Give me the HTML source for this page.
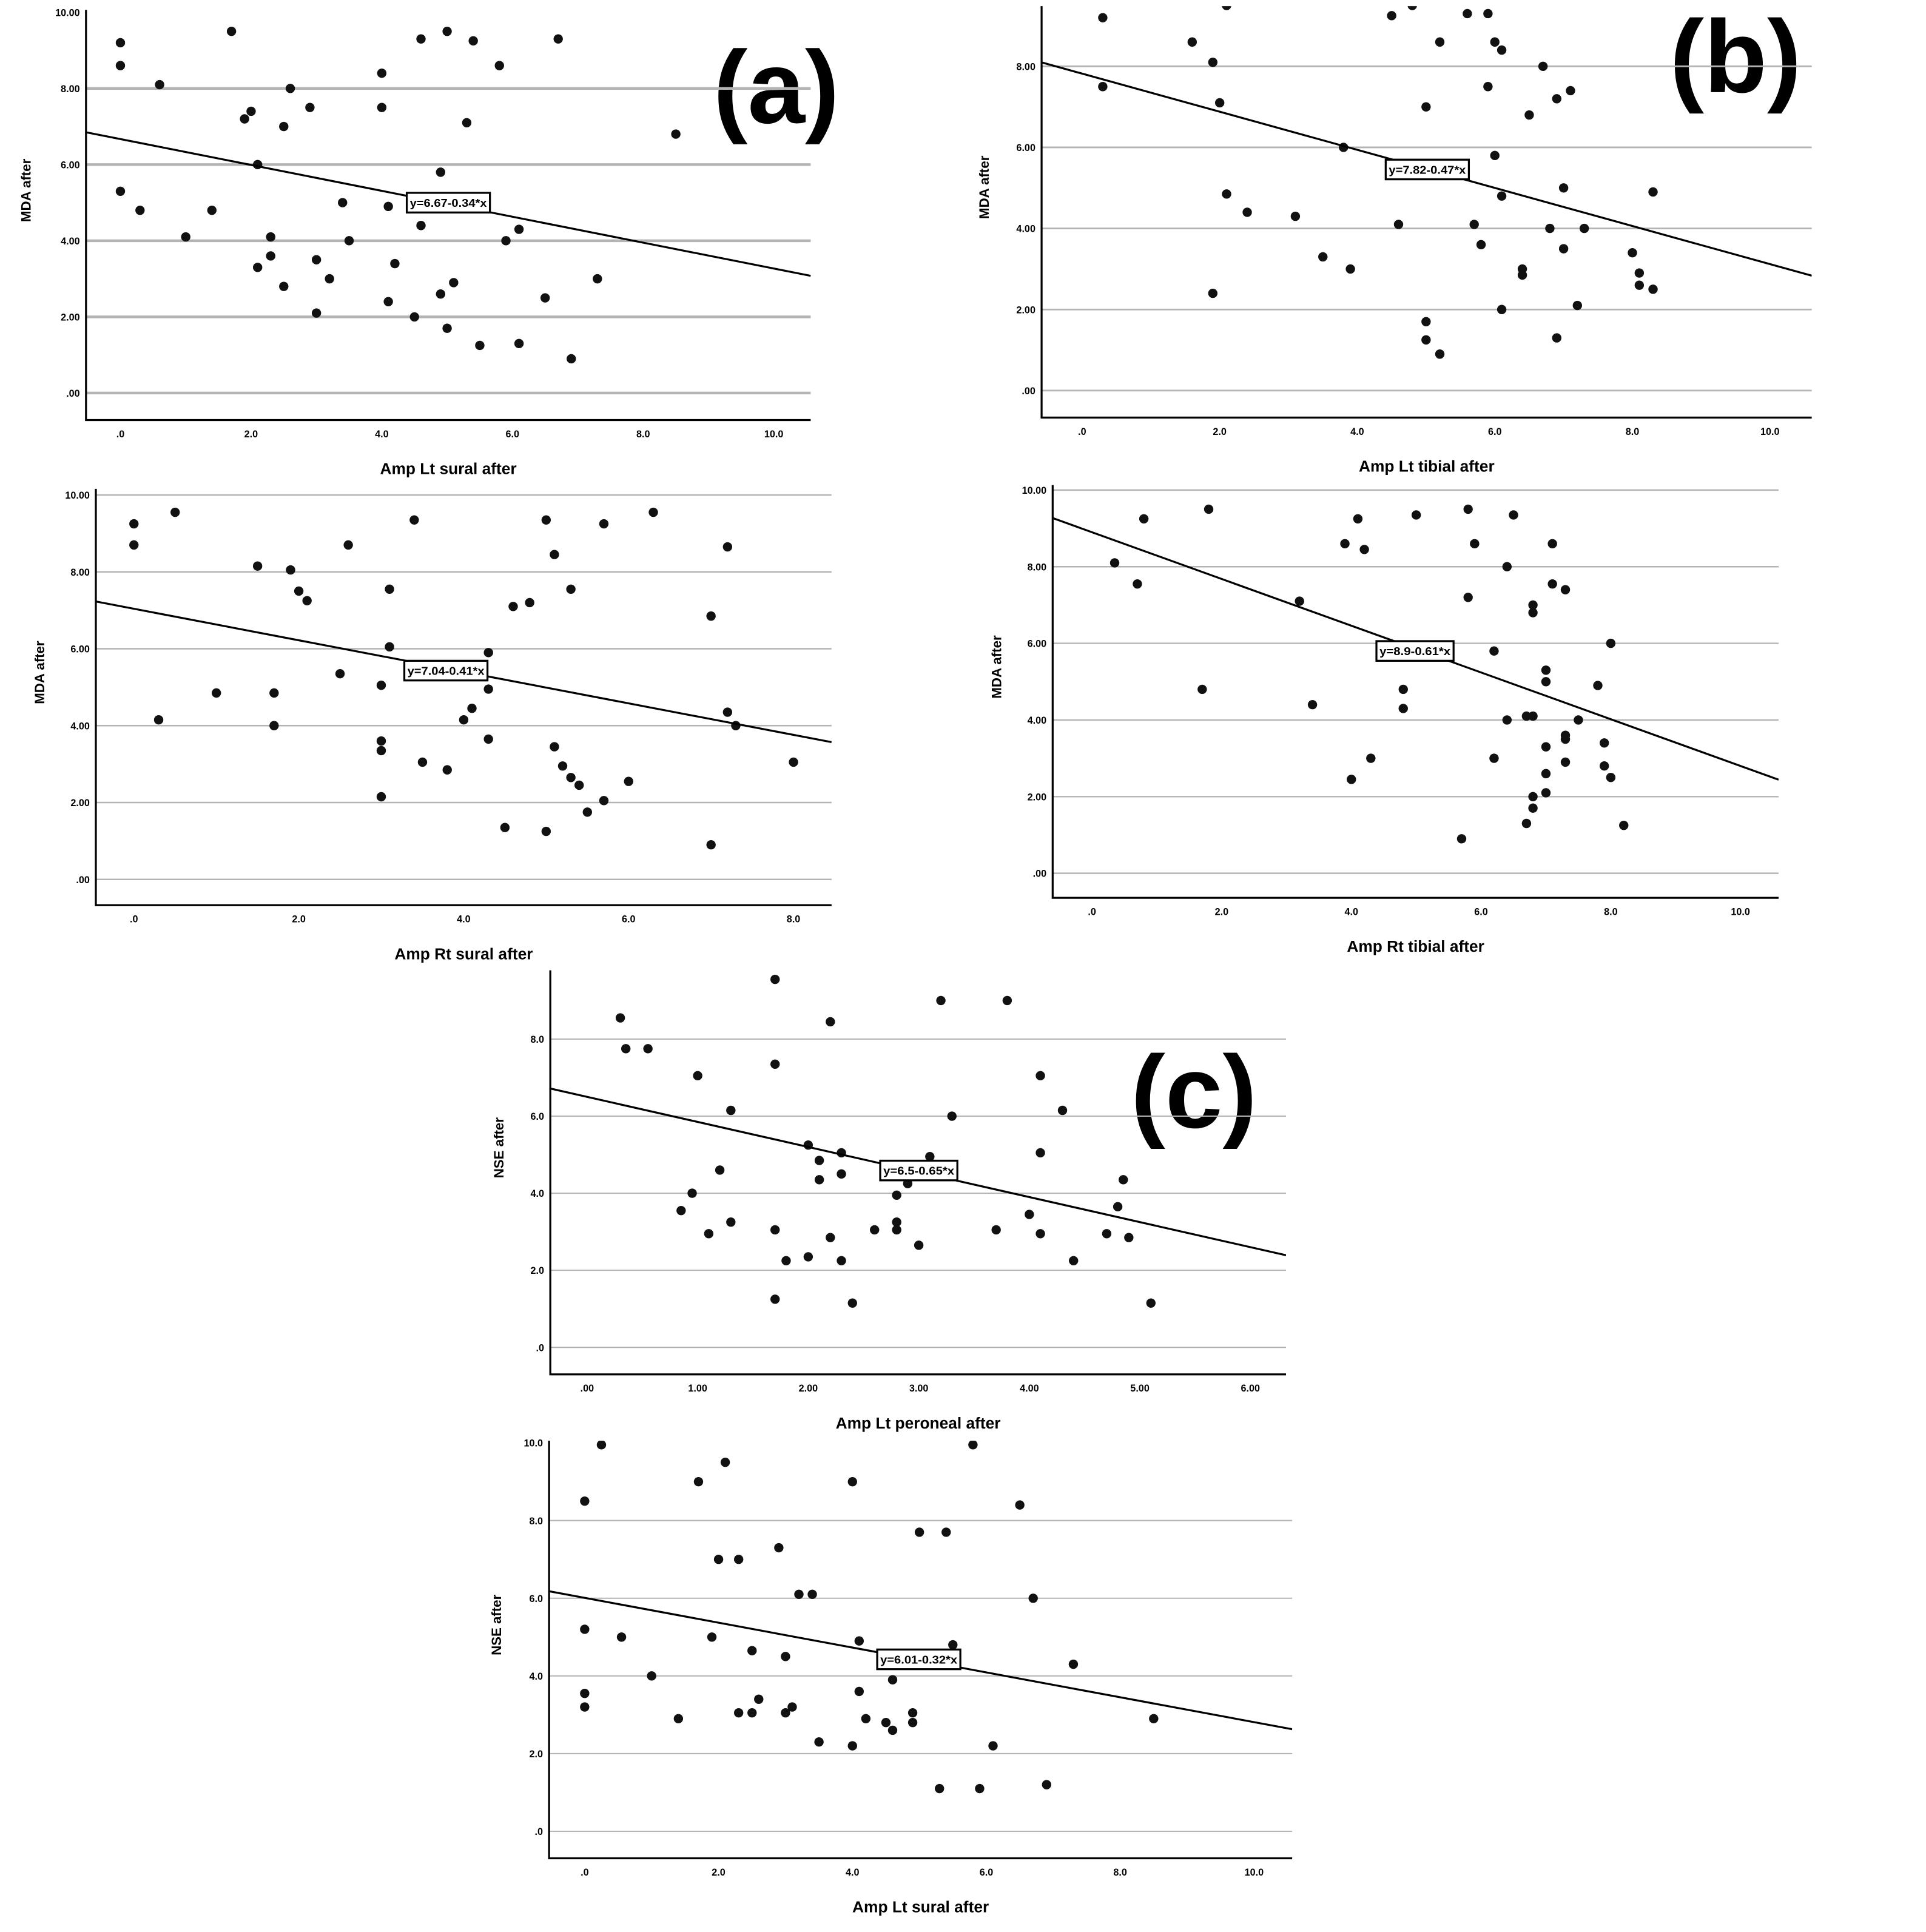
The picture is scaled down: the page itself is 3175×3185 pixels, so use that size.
<!DOCTYPE html>
<html><head><meta charset="utf-8"><style>
html,body{margin:0;padding:0;background:#fff;}
svg{display:block;}
text{font-family:"Liberation Sans",sans-serif;font-weight:bold;}
</style></head><body>
<svg id="fig" width="3175" height="3185" viewBox="0 0 1568 1573" xmlns="http://www.w3.org/2000/svg">
<rect width="1568" height="1573" fill="#fff"/>
<text x="632" y="100" font-size="84" text-anchor="middle">(a)</text>
<text x="1413" y="75" font-size="84" text-anchor="middle">(b)</text>
<text x="972" y="918" font-size="84" text-anchor="middle">(c)</text>
</svg>
<script>
// Panel a: MDA vs Amp Lt sural
const aX=[0,0,0.6,1.7,1.9,2.0,2.5,2.6,2.9,4.0,4.0,4.6,5.0,5.4,5.3,5.8,6.7,8.5,2.1,4.9,0,0.3,1.4,1.0,2.3,2.3,2.1,2.5,3.0,3.2,3.0,3.4,3.5,4.1,4.6,4.2,4.1,4.5,4.9,5.1,5.0,5.5,6.1,5.9,6.1,6.5,6.9,7.3];
const aY=[9.2,8.6,8.1,9.5,7.2,7.4,7.0,8.0,7.5,8.4,7.5,9.3,9.5,9.25,7.1,8.6,9.3,6.8,6.0,5.8,5.3,4.8,4.8,4.1,4.1,3.6,3.3,2.8,3.5,3.0,2.1,5.0,4.0,4.9,4.4,3.4,2.4,2.0,2.6,2.9,1.7,1.25,1.3,4.0,4.3,2.5,0.9,3.0];
const aFit=[6.67,-0.34];
// Panel b: MDA vs Amp Lt tibial
const bX=[0.3,0.3,1.6,1.9,2.0,2.1,2.1,2.4,1.9,3.1,3.5,3.8,3.9,4.5,4.8,4.6,5.0,5.2,5.6,5.9,5.9,6.0,6.0,6.1,6.1,5.7,5.8,6.7,6.5,6.9,7.1,7.0,6.8,7.0,7.3,6.4,6.4,6.1,6.9,7.2,5.0,5.0,5.2,8.0,8.1,8.1,8.3,8.3];
const bY=[9.2,7.5,8.6,8.1,7.1,9.5,4.85,4.4,2.4,4.3,3.3,6.0,3.0,9.25,9.5,4.1,7.0,8.6,9.3,9.3,7.5,5.8,8.6,8.4,4.8,4.1,3.6,8.0,6.8,7.2,7.4,5.0,4.0,3.5,4.0,3.0,2.85,2.0,1.3,2.1,1.7,1.25,0.9,3.4,2.9,2.6,2.5,4.9];
const bFit=[7.82,-0.47];
// Panel a2: MDA vs Amp Rt sural
const cX=[0,0,0.5,0.3,1.0,1.5,1.7,1.7,1.9,2.0,2.1,2.6,2.5,3.0,3.0,3.0,3.0,3.1,3.1,3.4,3.5,3.8,4.0,4.1,4.3,4.3,4.3,4.5,4.6,4.8,5.0,5.1,5.3,5.0,5.1,5.2,5.3,5.4,5.5,5.7,5.7,6.0,6.3,7.0,7.0,7.2,7.2,7.3,8.0];
const cY=[9.25,8.7,9.55,4.15,4.85,8.15,4.85,4.0,8.05,7.5,7.25,8.7,5.35,5.05,3.6,3.35,2.15,7.55,6.05,9.35,3.05,2.85,4.15,4.45,5.9,4.95,3.65,1.35,7.1,7.2,9.35,8.45,7.55,1.25,3.45,2.95,2.65,2.45,1.75,9.25,2.05,2.55,9.55,6.85,0.9,8.65,4.35,4.0,3.05];
const cFit=[7.04,-0.41];
// Panel b2: MDA vs Amp Rt tibial
const dX=[0.35,0.7,0.8,1.8,1.7,3.2,3.4,3.9,4.1,4.2,4.0,4.3,4.8,4.8,5.0,5.8,5.9,5.8,6.2,6.5,6.4,6.4,6.2,5.7,6.8,6.8,6.7,6.8,7.0,7.0,7.0,7.0,7.0,6.8,6.8,6.7,7.1,7.1,7.3,7.3,7.3,7.3,7.5,7.8,7.9,7.9,8.0,8.0,8.2];
const dY=[8.1,7.55,9.25,9.5,4.8,7.1,4.4,8.6,9.25,8.45,2.45,3.0,4.8,4.3,9.35,9.5,8.6,7.2,5.8,9.35,8.0,4.0,3.0,0.9,7.0,6.8,4.1,4.1,5.3,5.0,3.3,2.6,2.1,2.0,1.7,1.3,8.6,7.55,7.4,3.6,3.5,2.9,4.0,4.9,3.4,2.8,2.5,6.0,1.25];
const dFit=[8.9,-0.61];
// Panel c1: NSE vs Amp Lt peroneal
const eX=[0.3,0.35,0.55,0.85,0.95,1.0,1.1,1.2,1.3,1.3,1.7,1.7,1.7,1.7,1.8,2.0,2.0,2.1,2.1,2.2,2.2,2.3,2.3,2.3,2.4,2.6,2.8,2.8,2.8,2.9,3.0,3.1,3.2,3.3,3.7,3.8,4.0,4.1,4.1,4.1,4.3,4.4,4.7,4.8,4.9,4.85,5.1];
const eY=[8.55,7.75,7.75,3.55,4.0,7.05,2.95,4.6,6.15,3.25,9.55,7.35,3.05,1.25,2.25,2.35,5.25,4.85,4.35,8.45,2.85,5.05,4.5,2.25,1.15,3.05,3.25,3.05,3.95,4.25,2.65,4.95,9.0,6.0,3.05,9.0,3.45,7.05,5.05,2.95,6.15,2.25,2.95,3.65,2.85,4.35,1.15];
const eFit=[6.5,-0.65];
// Panel c2: NSE vs Amp Lt sural
const fX=[0,0.25,0,0,0,0.55,1.0,1.4,1.7,1.9,2.0,2.1,2.3,2.3,2.5,2.5,2.6,2.9,3.0,3.0,3.1,3.2,3.4,3.5,4.0,4.0,4.1,4.1,4.2,4.5,4.6,4.6,4.9,4.9,5.0,5.3,5.4,5.5,5.8,5.9,6.1,6.5,6.7,6.9,7.3,8.5];
const fY=[8.5,9.95,5.2,3.55,3.2,5.0,4.0,2.9,9.0,5.0,7.0,9.5,7.0,3.05,4.65,3.05,3.4,7.3,4.5,3.05,3.2,6.1,6.1,2.3,9.0,2.2,4.9,3.6,2.9,2.8,2.6,3.9,3.05,2.8,7.7,1.1,7.7,4.8,9.95,1.1,2.2,8.4,6.0,1.2,4.3,2.9];
const fFit=[6.01,-0.32];
const NS='http://www.w3.org/2000/svg';
const svg=document.getElementById('fig');
function mk(tag,attrs,parent){const e=document.createElementNS(NS,tag);for(const k in attrs)e.setAttribute(k,attrs[k]);(parent||svg).appendChild(e);return e;}
function panel(id,L,R,T,B,x0px,x1px,x0v,x1v,y0px,y1px,y0v,y1v,xt,xtl,yt,ytl,xtitle,ytitle,ytx,xs,ys,fit,lblx,lbly,lbl,gw){
  const g=mk('g',{});
  
  
  const sx=v=>x0px+(v-x0v)*(x1px-x0px)/(x1v-x0v);
  const sy=v=>y0px+(v-y0v)*(y1px-y0px)/(y1v-y0v);
  const cp=mk('clipPath',{id:'cp-'+id},g);mk('rect',{x:L,y:T,width:R-L,height:B-T},cp);
  yt.forEach((v,i)=>{const y=sy(v);
    if(y>=T){
      if(y>T+3){const gl=mk('line',{x1:L,x2:R,y1:y,y2:y,stroke:'#b4b4b4','stroke-width':gw},g);
      
      }
      const t=mk('text',{x:L-5,y:y+3,'font-size':8,'text-anchor':'end'},g);t.textContent=ytl[i];
      
      }
  });
  xt.forEach((v,i)=>{const t=mk('text',{x:sx(v),y:B+14,'font-size':8,'text-anchor':'middle'},g);t.textContent=xtl[i];
    
    });
  const ax=mk('path',{d:`M${L},${T}V${B}H${R}`,fill:'none',stroke:'#000','stroke-width':1.6},g);
  
  
  const pg=mk('g',{'clip-path':`url(#cp-${id})`},g);
  xs.forEach((v,i)=>{const c=mk('circle',{cx:sx(v),cy:sy(ys[i]),r:3.8,fill:'#111'},pg);
    
    });
  const xa=x0v+(L-x0px)*(x1v-x0v)/(x1px-x0px), xb=x0v+(R-x0px)*(x1v-x0v)/(x1px-x0px);
  const ln=mk('line',{x1:L,y1:sy(fit[0]+fit[1]*xa),x2:R,y2:sy(fit[0]+fit[1]*xb),stroke:'#000','stroke-width':1.6},pg);
  
  
  const w=lbl.length*4.9+4;
  const bx=mk('rect',{x:lblx-w/2,y:lbly-8,width:w,height:16,fill:'#fff',stroke:'#000','stroke-width':1.6},g);
  
  
  const lt=mk('text',{x:lblx,y:lbly+3.5,'font-size':9,'text-anchor':'middle',textLength:w-5,lengthAdjust:'spacingAndGlyphs'},g);lt.textContent=lbl;
  
  
  const xtt=mk('text',{x:(L+R)/2,y:B+44,'font-size':13,'text-anchor':'middle'},g);xtt.textContent=xtitle;
  
  
  const cy=(T+B)/2-20;
  const ytt=mk('text',{x:ytx,y:cy,'font-size':11,'text-anchor':'middle',transform:`rotate(-90 ${ytx} ${cy})`},g);ytt.textContent=ytitle;
  
  
}
const t10=[0,2,4,6,8,10];
const l10=['.0','2.0','4.0','6.0','8.0','10.0'];
const ym=['.00','2.00','4.00','6.00','8.00','10.00'];
const yn=['.0','2.0','4.0','6.0','8.0','10.0'];
panel('panel-a-lt-sural',70,660,8,342,98,630,0,10,320,10,0,10,t10,l10,t10,ym,'Amp Lt sural after','MDA after',25,aX,aY,aFit,365,165,'y=6.67-0.34*x',2.2);
panel('panel-b-lt-tibial',848,1475,5,340,881,1441,0,10,318,54,0,8,t10,l10,t10,ym,'Amp Lt tibial after','MDA after',805,bX,bY,bFit,1162,138,'y=7.82-0.47*x',1.4);
panel('panel-a-rt-sural',78,677,398,737,109,646,0,8,716,403,0,10,[0,2,4,6,8],['.0','2.0','4.0','6.0','8.0'],t10,ym,'Amp Rt sural after','MDA after',36,cX,cY,cFit,363,546,'y=7.04-0.41*x',1.2);
panel('panel-b-rt-tibial',857,1448,395,731,889,1417,0,10,711,399,0,10,t10,l10,t10,ym,'Amp Rt tibial after','MDA after',815,dX,dY,dFit,1152,530,'y=8.9-0.61*x',1.2);
panel('panel-c-lt-peroneal',448,1047,790,1119,478,1018,0,6,1097,846,0,8,[0,1,2,3,4,5,6],['.00','1.00','2.00','3.00','4.00','5.00','6.00'],[0,2,4,6,8,10],yn,'Amp Lt peroneal after','NSE after',410,eX,eY,eFit,748,953,'y=6.5-0.65*x',1.0);
panel('panel-c-lt-sural',447,1052,1173,1513,476,1021,0,10,1491,1238,0,8,t10,['.0','2.0','4.0','6.0','8.0','10.0'],[0,2,4,6,8,10],yn,'Amp Lt sural after','NSE after',408,fX,fY,fFit,748,1351,'y=6.01-0.32*x',1.0);
</script>
</body></html>
